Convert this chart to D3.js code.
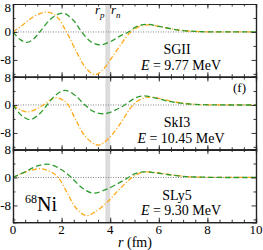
<!DOCTYPE html>
<html>
<head>
<meta charset="utf-8">
<script src="https://cdn.jsdelivr.net/npm/d3@7"></script>
<style>
  body { margin: 0; background: #fff; }
  text { font-family: "Liberation Serif", "DejaVu Serif", serif; fill: #000; }
</style>
</head>
<body>
<div id="chart"></div>
<script>
// panel labels
const forceNames = ['SGII', 'SkI3', 'SLy5'];
const energies = ['9.77', '10.45', '9.30'];
const xTickLabels = [0, 2, 4, 6, 8, 10];
const yTickLabels = [-8, 0, 8];
const bandR = [3.8, 4.0];

// [r, value], green dashed curves
const greenSGII = [[0,0],[0.3,-2.2],[0.57,-3.0],[0.85,-2.0],[1.1,0],[1.6,4.0],[2.07,5.4],[2.5,3.2],[2.83,0],[3.2,-2.8],[3.58,-3.7],[4.0,-2.8],[4.4,-1.2],[4.75,0],[5.1,1.6],[5.5,2.2],[6,1.6],[6.5,0.9],[7,0.4],[7.5,0.15],[8,0.05],[9,0],[10,0]];
const greenSkI3 = [[0,0],[0.35,-3.0],[0.7,-4.2],[1.05,-2.8],[1.4,0],[1.75,2.8],[2.14,4.2],[2.55,2.8],[2.96,0],[3.35,-2.0],[3.78,-2.5],[4.2,-1.5],[4.6,0],[5.0,1.9],[5.35,2.6],[5.8,2.1],[6.3,1.2],[6.8,0.6],[7.3,0.25],[7.8,0.1],[8.5,0],[10,0]];
const greenSLy5 = [[0,0],[0.5,1.6],[1.0,3.3],[1.52,3.75],[2.0,2.2],[2.4,0],[2.85,-3.0],[3.3,-4.5],[3.8,-3.5],[4.3,-1.8],[4.75,0],[5.0,1.0],[5.35,1.6],[5.8,1.4],[6.3,0.9],[6.8,0.45],[7.3,0.2],[7.8,0.08],[8.5,0],[10,0]];

// orange dash-dot curves
const orangeSGII = [[0,0],[0.4,2.0],[0.9,4.6],[1.4,5.7],[1.8,4.4],[2.2,0],[2.6,-5.5],[3.0,-10.3],[3.37,-12.2],[3.7,-10.8],[4.0,-8],[4.4,-4],[4.8,-0.3],[5.15,1.4],[5.5,2.0],[6,1.6],[6.5,0.9],[7,0.4],[7.5,0.15],[8,0.05],[9,0],[10,0]];
const orangeSkI3 = [[0,0],[0.3,-1.4],[0.6,-2.0],[0.95,-1.2],[1.25,0],[1.55,1.5],[1.86,2.0],[2.1,1.2],[2.27,0],[2.6,-4.5],[3.0,-9.2],[3.5,-11.5],[3.9,-9.8],[4.4,-5.5],[4.8,-1.2],[5.1,1.0],[5.5,2.2],[6,1.9],[6.5,1.1],[7,0.5],[7.5,0.2],[8,0.05],[9,0],[10,0]];
const orangeSLy5 = [[0,0],[0.5,1.5],[1.1,2.5],[1.5,1.8],[1.86,0],[2.2,-4],[2.6,-8.8],[3.0,-10.9],[3.35,-10.0],[3.9,-6.9],[4.4,-3.2],[4.9,0],[5.2,1.2],[5.5,1.6],[6,1.3],[6.5,0.8],[7,0.35],[7.5,0.12],[8,0.04],[9,0],[10,0]];

const greens = [greenSGII, greenSkI3, greenSLy5];
const oranges = [orangeSGII, orangeSkI3, orangeSLy5];

const width = 263, height = 250;
const left = 13, right = 256;
const panelTops = [4, 77, 149.5];
const panelH = 72.7;

const svg = d3.select('#chart')
  .append('svg')
  .attr('width', width)
  .attr('height', height);

const x = d3.scaleLinear().domain([0, 10]).range([left, right]);

// gray band behind everything
svg.append('rect')
  .attr('x', x(bandR[0]))
  .attr('y', panelTops[0])
  .attr('width', x(bandR[1]) - x(bandR[0]))
  .attr('height', panelTops[2] + panelH - panelTops[0])
  .attr('fill', '#dcdcdc');

forceNames.forEach(function (name, i) {
  const top = panelTops[i];
  const y = d3.scaleLinear().domain([-12.8, 8]).range([top + panelH, top]);
  const g = svg.append('g');

  // zero line
  g.append('line')
    .attr('x1', x(0)).attr('x2', x(10))
    .attr('y1', y(0)).attr('y2', y(0))
    .attr('stroke', '#777')
    .attr('stroke-width', 0.9)
    .attr('stroke-dasharray', '1,1.5');

  const line = d3.line()
    .x(d => x(d[0]))
    .y(d => y(d[1]))
    .curve(d3.curveCatmullRom);

  g.append('path')
    .datum(oranges[i])
    .attr('d', line)
    .attr('fill', 'none')
    .attr('stroke', '#ffa91a')
    .attr('stroke-width', 1.3)
    .attr('stroke-dasharray', '5,2,1.2,2');

  g.append('path')
    .datum(greens[i])
    .attr('d', line)
    .attr('fill', 'none')
    .attr('stroke', '#2e9b2e')
    .attr('stroke-width', 1.3)
    .attr('stroke-dasharray', '5.5,3');

  // axes, ticks pointing inward
  const minorX = d3.range(0, 10.01, 0.5);
  const majorX = xTickLabels;
  const bottom = i === 2;

  g.append('g')
    .attr('transform', 'translate(0,' + (top + panelH) + ')')
    .call(d3.axisTop(x).tickValues(minorX).tickSize(2.5).tickFormat(''));
  g.append('g')
    .attr('transform', 'translate(0,' + (top + panelH) + ')')
    .call(d3.axisTop(x).tickValues(majorX).tickSize(4.5).tickFormat(''));
  g.append('g')
    .attr('transform', 'translate(0,' + top + ')')
    .call(d3.axisBottom(x).tickValues(minorX).tickSize(2.5).tickFormat(''));
  g.append('g')
    .attr('transform', 'translate(0,' + top + ')')
    .call(d3.axisBottom(x).tickValues(majorX).tickSize(4.5).tickFormat(''));

  g.append('g')
    .attr('transform', 'translate(' + left + ',0)')
    .call(d3.axisRight(y).tickValues([-12, -4, 4]).tickSize(2.5).tickFormat(''));
  g.append('g')
    .attr('transform', 'translate(' + left + ',0)')
    .call(d3.axisRight(y).tickValues(yTickLabels).tickSize(4.5).tickFormat(''));
  g.append('g')
    .attr('transform', 'translate(' + right + ',0)')
    .call(d3.axisLeft(y).tickValues([-12, -4, 4]).tickSize(2.5).tickFormat(''));
  g.append('g')
    .attr('transform', 'translate(' + right + ',0)')
    .call(d3.axisLeft(y).tickValues(yTickLabels).tickSize(4.5).tickFormat(''));

  g.selectAll('.domain').attr('stroke', '#222').attr('stroke-width', 1.2);
  g.selectAll('.tick line').attr('stroke', '#222').attr('stroke-width', 0.9);

  // y tick labels (top one nudged so it stays inside the page)
  g.selectAll('.ylab')
    .data(yTickLabels)
    .enter().append('text')
    .attr('x', left - 2)
    .attr('y', d => y(d) + 4.5 + (i === 0 && d === 8 ? 3 : 0))
    .attr('text-anchor', 'end')
    .attr('font-size', 13)
    .text(d => d === -8 ? '-8' : d);

  // force name and energy
  g.append('text')
    .attr('x', 177)
    .attr('y', top + 50)
    .attr('text-anchor', 'middle')
    .attr('font-size', 14)
    .text(name);
  const e = g.append('text')
    .attr('x', 181)
    .attr('y', top + 65.5)
    .attr('text-anchor', 'middle')
    .attr('font-size', 14);
  e.append('tspan').attr('font-style', 'italic').text('E');
  e.append('tspan').text(' = ' + energies[i] + ' MeV');

  if (bottom) {
    g.selectAll('.xlab')
      .data(xTickLabels)
      .enter().append('text')
      .attr('x', d => x(d))
      .attr('y', top + panelH + 12)
      .attr('text-anchor', 'middle')
      .attr('font-size', 13)
      .text(d => d);
  }
});

// r_p and r_n markers
const rp = svg.append('text').attr('x', 95).attr('y', 14).attr('font-size', 13);
rp.append('tspan').attr('font-style', 'italic').text('r');
rp.append('tspan').attr('font-size', 9).attr('font-style', 'italic').attr('dy', 4).text('p');
const rn = svg.append('text').attr('x', 111).attr('y', 14).attr('font-size', 13);
rn.append('tspan').attr('font-style', 'italic').text('r');
rn.append('tspan').attr('font-size', 9).attr('font-style', 'italic').attr('dy', 4).text('n');

svg.append('text')
  .attr('x', 233)
  .attr('y', panelTops[1] + 15)
  .attr('font-size', 13)
  .text('(f)');

// nucleus
const ni = svg.append('text').attr('x', 25).attr('y', panelTops[2] + 61);
ni.append('tspan').attr('font-size', 12).attr('dy', -8).text('68');
ni.append('tspan').attr('font-size', 20).attr('dy', 8).text('Ni');

// x axis title
const xt = svg.append('text')
  .attr('x', 135)
  .attr('y', 247)
  .attr('text-anchor', 'middle')
  .attr('font-size', 14);
xt.append('tspan').attr('font-style', 'italic').text('r');
xt.append('tspan').text(' (fm)');
</script>
</body>
</html>
